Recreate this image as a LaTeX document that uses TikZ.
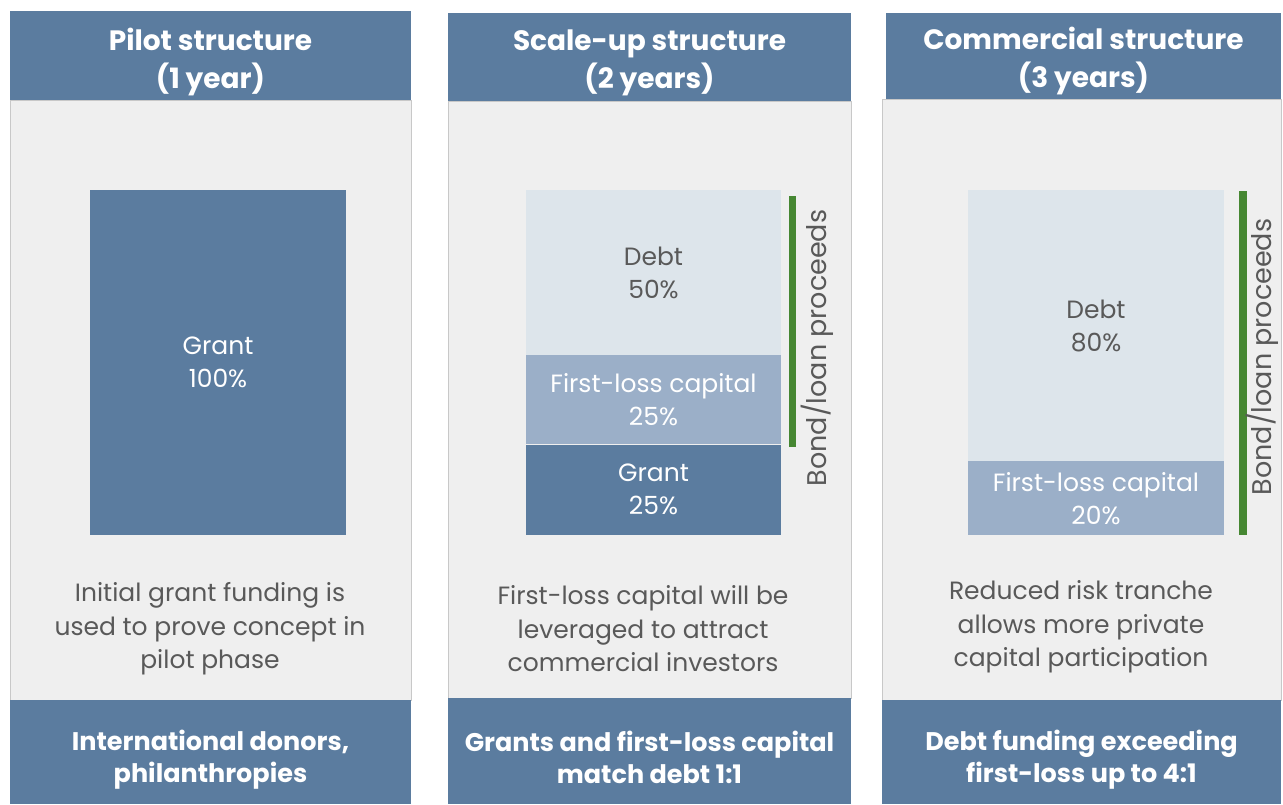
\documentclass[tikz,border=0pt]{standalone}
\usepackage{fontspec}
\setmainfont{Poppins}
\usetikzlibrary{positioning}
\definecolor{hdrblue}{HTML}{5B7C9F}
\definecolor{flblue}{HTML}{9BAFC8}
\definecolor{debtgray}{HTML}{DDE5EB}
\definecolor{panelbg}{HTML}{EFEFEF}
\definecolor{panelline}{HTML}{C8C8C8}
\definecolor{bondgreen}{HTML}{468732}
\definecolor{txtgray}{HTML}{595959}
\begin{document}
\begin{tikzpicture}[x=1pt,y=-1pt,
  hdr/.style={text=white,inner sep=0,align=center,font=\fontsize{28}{38}\selectfont\bfseries},
  ftr/.style={hdr,font=\fontsize{25.5}{32}\selectfont\bfseries},
  panel/.style={fill=panelbg,draw=panelline,line width=0.8pt,inner sep=0},
  seg/.style={inner sep=0,align=center,font=\fontsize{25}{33}\selectfont},
  note/.style={inner sep=0,align=center,text=txtgray,font=\fontsize{25}{33.5}\selectfont},
  bond/.style={fill=bondgreen,inner sep=0},
  bondtxt/.style={inner sep=0,rotate=90,text=txtgray,font=\fontsize{27}{30}\selectfont}]
\useasboundingbox (0,0) rectangle (1283,804);
% panel 1
\node[panel,minimum width=401,minimum height=600] (b1) at (210.5,400) {};
\fill[hdrblue] (10,11) rectangle (411,100);
\fill[hdrblue] (10,700) rectangle (411,804);
\node[hdr] (h1) at (210.5,61.5) {Pilot structure\\(1 year)};
\node[ftr] (f1) at (210.5,760) {International donors,\\philanthropies};
\node[seg,fill=hdrblue,text=white,minimum width=256,minimum height=345] (g1) at (218,362.5) {Grant\\100\%};
\node[note] (n1) at (210,629) {Initial grant funding is\\used to prove concept in\\pilot phase};
% panel 2
\node[panel,minimum width=403,minimum height=597] (b2) at (649.5,399.5) {};
\fill[hdrblue] (448,13) rectangle (851,101);
\fill[hdrblue] (448,698) rectangle (851,804);
\node[hdr] (h2) at (649.5,63) {Scale-up structure\\(2 years)};
\node[ftr] (f2) at (649.5,757) {Grants and first-loss capital\\match debt 1:1};
\node[seg,fill=debtgray,text=txtgray,minimum width=255,minimum height=165] (d2) at (653.5,272.5) {Debt\\50\%};
\node[seg,fill=flblue,text=white,minimum width=255,minimum height=89,below=0pt of d2] (l2) {First-loss capital\\25\%};
\node[seg,fill=hdrblue,text=white,minimum width=255,minimum height=90,below=0pt of l2] (g2) {Grant\\25\%};
\node[bond,minimum width=7,minimum height=251] (p2) at (792.5,321.5) {};
\node[bondtxt] (t2) at (817,348) {Bond/loan proceeds};
\node[note] (n2) at (643,629) {First-loss capital will be\\leveraged to attract\\commercial investors};
% panel 3
\node[panel,minimum width=399,minimum height=601] (b3) at (1081.5,399.5) {};
\fill[hdrblue] (886,13) rectangle (1281,99);
\fill[hdrblue] (882,700) rectangle (1281,804);
\node[hdr] (h3) at (1083.5,61) {Commercial structure\\(3 years)};
\node[ftr] (f3) at (1081.5,760) {Debt funding exceeding\\first-loss up to 4:1};
\node[seg,fill=debtgray,text=txtgray,minimum width=256,minimum height=271] (d3) at (1096,325.5) {Debt\\80\%};
\node[seg,fill=flblue,text=white,minimum width=256,minimum height=74,below=0pt of d3] (l3) {First-loss capital\\20\%};
\node[bond,minimum width=8,minimum height=344] (p3) at (1243,363) {};
\node[bondtxt] (t3) at (1262,357) {Bond/loan proceeds};
\node[note] (n3) at (1081,627) {Reduced risk tranche\\allows more private\\capital participation};
\end{tikzpicture}
\end{document}
